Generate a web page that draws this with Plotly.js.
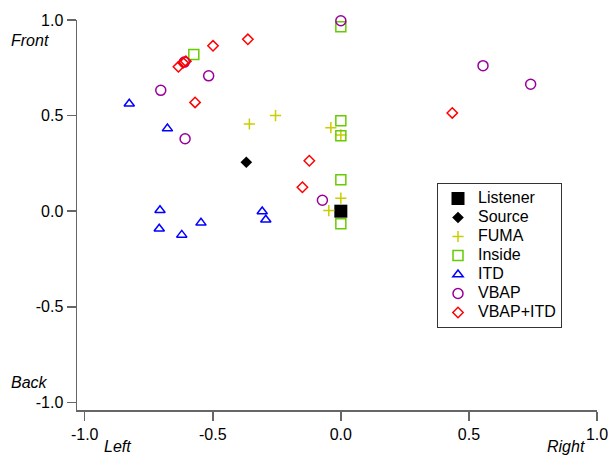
<!DOCTYPE html>
<html>
<head>
<meta charset="utf-8">
<script src="https://cdn.plot.ly/plotly-3.0.1.min.js"></script>
<style>html,body{margin:0;padding:0;background:#fff}#chart{width:611px;height:455px}</style>
</head>
<body>
<div id="chart"></div>
<script>
// Data (x: left/right, y: back/front)
const listenerX = [0.0];
const listenerY = [0.0];
const sourceX = [-0.369];
const sourceY = [0.256];
const fumaX = [-0.357, -0.255, -0.039, 0.0, 0.0, -0.047];
const fumaY = [0.456, 0.500, 0.437, 0.399, 0.068, 0.003];
const insideX = [-0.574, 0.0, 0.0, 0.0, 0.0, 0.0];
const insideY = [0.820, 0.965, 0.473, 0.395, 0.164, -0.066];
const itdX = [-0.826, -0.677, -0.706, -0.709, -0.621, -0.546, -0.307, -0.293];
const itdY = [0.562, 0.432, 0.005, -0.092, -0.124, -0.061, -0.002, -0.045];
const vbapX = [-0.703, -0.516, -0.608, -0.611, 0.0, 0.555, 0.741, -0.072];
const vbapY = [0.632, 0.708, 0.379, 0.780, 0.996, 0.761, 0.664, 0.057];
const vbapItdX = [-0.363, -0.499, -0.605, -0.616, -0.634, -0.569, -0.123, -0.150, 0.435];
const vbapItdY = [0.899, 0.865, 0.784, 0.776, 0.755, 0.569, 0.264, 0.125, 0.514];
const names = ['Listener', 'Source', 'FUMA', 'Inside', 'ITD', 'VBAP', 'VBAP+ITD'];
const xTicks = [-1.0, -0.5, 0.0, 0.5, 1.0];
const yTicks = [-1.0, -0.5, 0.0, 0.5, 1.0];
const tickText = ['-1.0', '-0.5', '0.0', '0.5', '1.0'];

function lbl(n) { return '<span style="font-size:16px">' + n + '</span>'; }
function tr(x, y, name, symbol, color, size, lw) {
  return {x: x, y: y, name: lbl(name), type: 'scatter', mode: 'markers', cliponaxis: false,
    marker: {symbol: symbol, color: color, size: size, line: {color: color, width: lw}}};
}
const traces = [
  tr(listenerX, listenerY, names[0], 'square', '#000000', 13, 0),
  tr(sourceX, sourceY, names[1], 'diamond', '#000000', 9, 0),
  tr(fumaX, fumaY, names[2], 'cross-thin-open', '#cccc00', 8, 1.5),
  tr(insideX, insideY, names[3], 'square-open', '#66cc00', 10, 1.5),
  tr(itdX, itdY, names[4], 'triangle-up-open', '#0000ff', 9, 1.5),
  tr(vbapX, vbapY, names[5], 'circle-open', '#990099', 10, 1.5),
  tr(vbapItdX, vbapItdY, names[6], 'diamond-open', '#ff0000', 8, 1.5)
];

const axisCommon = {
  showgrid: false, zeroline: false, showline: true, linecolor: '#666', linewidth: 1.5,
  ticks: 'outside', ticklen: 9, tickwidth: 1.5, tickcolor: '#666',
  tickfont: {family: 'Liberation Sans, Arial, sans-serif', size: 16, color: '#000'},
  tickmode: 'array', mirror: false
};
const plotW = 611 - 77 - 14, plotH = 455 - 20 - 45;
const layout = {
  width: 611, height: 455,
  margin: {l: 77, r: 14, t: 20, b: 45},
  paper_bgcolor: '#fff', plot_bgcolor: '#fff',
  font: {family: 'Liberation Sans, Arial, sans-serif', color: '#000'},
  xaxis: Object.assign({}, axisCommon, {range: [-1.03, 1.0], tickvals: xTicks, ticktext: tickText}),
  yaxis: Object.assign({}, axisCommon, {range: [-1.04, 1.0], tickvals: yTicks, ticktext: tickText}),
  showlegend: true,
  legend: {
    x: (437 - 77) / plotW, y: 1 - (183 - 20) / plotH, xanchor: 'left', yanchor: 'top',
    xref: 'paper', yref: 'paper',
    bgcolor: '#fff', bordercolor: '#333', borderwidth: 1,
    font: {family: 'Liberation Sans, Arial, sans-serif', size: 12, color: '#000'},
    itemwidth: 30, tracegroupgap: 0},
  annotations: [
    {text: '<i>Front</i>', xref: 'paper', x: 0, xanchor: 'right', xshift: -26, yref: 'y', y: 0.895, showarrow: false, font: {size: 16}},
    {text: '<i>Back</i>', xref: 'paper', x: 0, xanchor: 'right', xshift: -27, yref: 'y', y: -0.897, showarrow: false, font: {size: 16}},
    {text: '<i>Left</i>', xref: 'x', x: -0.87, yref: 'paper', y: 0, yanchor: 'top', yshift: -26, showarrow: false, font: {size: 16}},
    {text: '<i>Right</i>', xref: 'x', x: 0.88, yref: 'paper', y: 0, yanchor: 'top', yshift: -26, showarrow: false, font: {size: 16}}
  ]
};
Plotly.newPlot('chart', traces, layout, {displayModeBar: false, staticPlot: true});
</script>
</body>
</html>
